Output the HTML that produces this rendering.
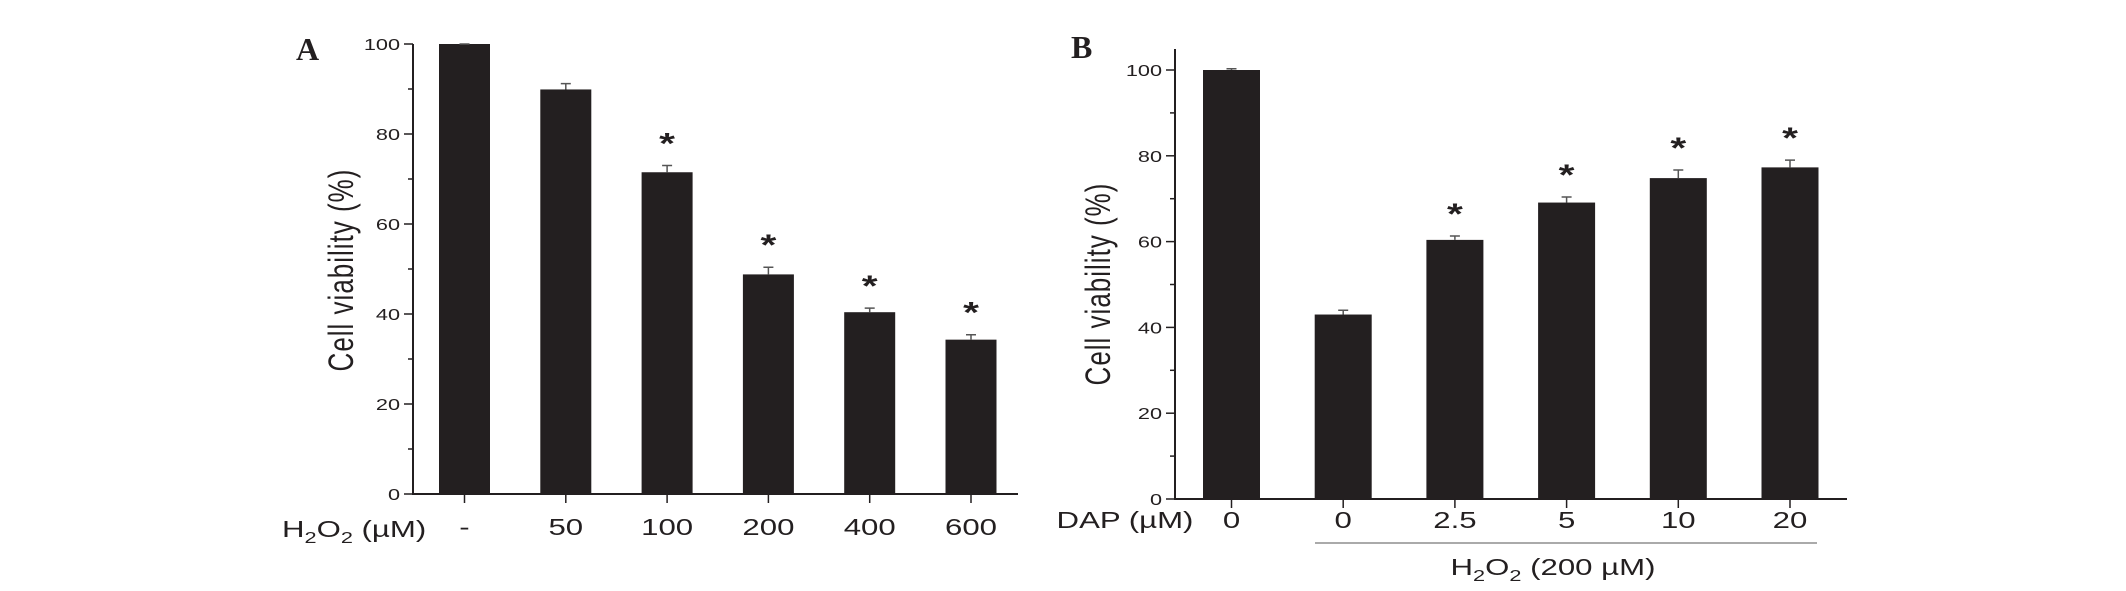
<!DOCTYPE html>
<html><head><meta charset="utf-8"><style>
html,body{margin:0;padding:0;background:#fff;}
svg{display:block;}
text{font-family:"Liberation Sans",Arial,sans-serif;fill:#231f20;}
</style></head><body>
<svg id="fig" width="2126" height="591" viewBox="0 0 2126 591"></svg>
<script>
const catsA = ["-","50","100","200","400","600"];
const valsA = [100,89.9,71.5,48.8,40.4,34.3];
const errA = [0,1.3,1.5,1.6,0.9,1.1];
const starA = [false,false,true,true,true,true];
const catsB = ["0","0","2.5","5","10","20"];
const valsB = [100,43,60.4,69.1,74.8,77.3];
const errB = [0.3,1,0.9,1.3,1.9,1.7];
const starB = [false,false,true,true,true,true];
const yTicks = [0,20,40,60,80,100];

const NS="http://www.w3.org/2000/svg";
const svg=document.getElementById('fig');
const SX=1.356;
function el(tag,attrs,parent){const e=document.createElementNS(NS,tag);for(const k in attrs)e.setAttribute(k,attrs[k]);(parent||svg).appendChild(e);return e;}
function txt(x,y,s,size,anchor,parent,extra){const t=el('text',{transform:`translate(${x},${y}) scale(${SX},1)${extra||''}`,'font-size':size,'text-anchor':anchor||'middle'},parent);t.textContent=s;return t;}

function panel(o){
  const g=el('g',{});
  
  
  const y=v=>o.y0+(o.y100-o.y0)*v/100;
  const x=i=>o.x0+o.step*i;
  o.vals.forEach((v,i)=>{
    const b=el('rect',{x:x(i)-o.bw/2,y:y(v),width:o.bw,height:y(0)-y(v),fill:'#231f20'},g);
    
    
    const top=y(v+o.err[i]);
    const e=el('path',{d:`M${x(i)},${y(v)}V${top}M${x(i)-5},${top}H${x(i)+5}`,stroke:'#555',fill:'none','stroke-width':1.5},g);
    
    
    if(o.star[i]){const s=txt(x(i),top-12,'*',30,'middle',g);s.setAttribute('font-weight','bold');
      
      }
  });
  const ax=el('path',{d:`M${o.ax},${o.ytop}V${o.y0}H${o.xend}`,stroke:'#231f20',fill:'none','stroke-width':2},g);
  
  
  for(let v=0;v<=100;v+=10){
    const major=v%20===0;
    el('line',{x1:o.ax-(major?9:5),x2:o.ax,y1:y(v),y2:y(v),stroke:'#231f20','stroke-width':1.5},g);
  }
  yTicks.forEach(v=>{const t=txt(o.ax-13,y(v)+6,String(v),16,'end',g);
    
    });
  o.cats.forEach((c,i)=>{
    el('line',{x1:x(i),x2:x(i),y1:o.y0,y2:o.y0+9,stroke:'#231f20','stroke-width':1.5},g);
    const t=txt(x(i),o.labY,c,23,'middle',g);
    
    
  });
  const yl=txt(o.ylx,o.yly,'Cell viability (%)',26,'middle',g,' rotate(-90)');
  yl.setAttribute('letter-spacing','1');
  
  
  const pl=el('text',{transform:`translate(${o.px},${o.py}) scale(1,1)`,'font-size':32,'font-weight':'bold',style:'font-family:"Liberation Serif",serif'},g);
  pl.textContent=o.letter;
  
  
  return g;
}

panel({name:'panel-a',cats:catsA,vals:valsA,err:errA,star:starA,x0:464.5,step:101.3,bw:51,ax:413,ytop:44,y0:494,y100:44,xend:1018,labY:535,ylx:353,yly:270,px:296,py:60,letter:'A'});
panel({name:'panel-b',cats:catsB,vals:valsB,err:errB,star:starB,x0:1231.5,step:111.7,bw:57,ax:1175,ytop:49,y0:499,y100:70,xend:1847,labY:528,ylx:1110,yly:284,px:1071,py:58,letter:'B'});

const ha=el('text',{transform:`translate(282,537) scale(${SX},1)`,'font-size':23});


ha.setAttribute('xml:space','preserve');
ha.innerHTML='H<tspan font-size="16" dy="6">2</tspan><tspan dy="-6">O</tspan><tspan font-size="16" dy="6">2</tspan><tspan dy="-6">  (µM)</tspan>';
const hb=txt(1125,528,'DAP (µM)',23,'middle');


const gl=el('line',{x1:1315,x2:1817,y1:543,y2:543,stroke:'#aaa','stroke-width':2});


const hc=el('text',{transform:`translate(1553,575) scale(${SX},1)`,'font-size':23,'text-anchor':'middle'});


hc.innerHTML='H<tspan font-size="16" dy="6">2</tspan><tspan dy="-6">O</tspan><tspan font-size="16" dy="6">2</tspan><tspan dy="-6"> (200 µM)</tspan>';
</script>
</body></html>
